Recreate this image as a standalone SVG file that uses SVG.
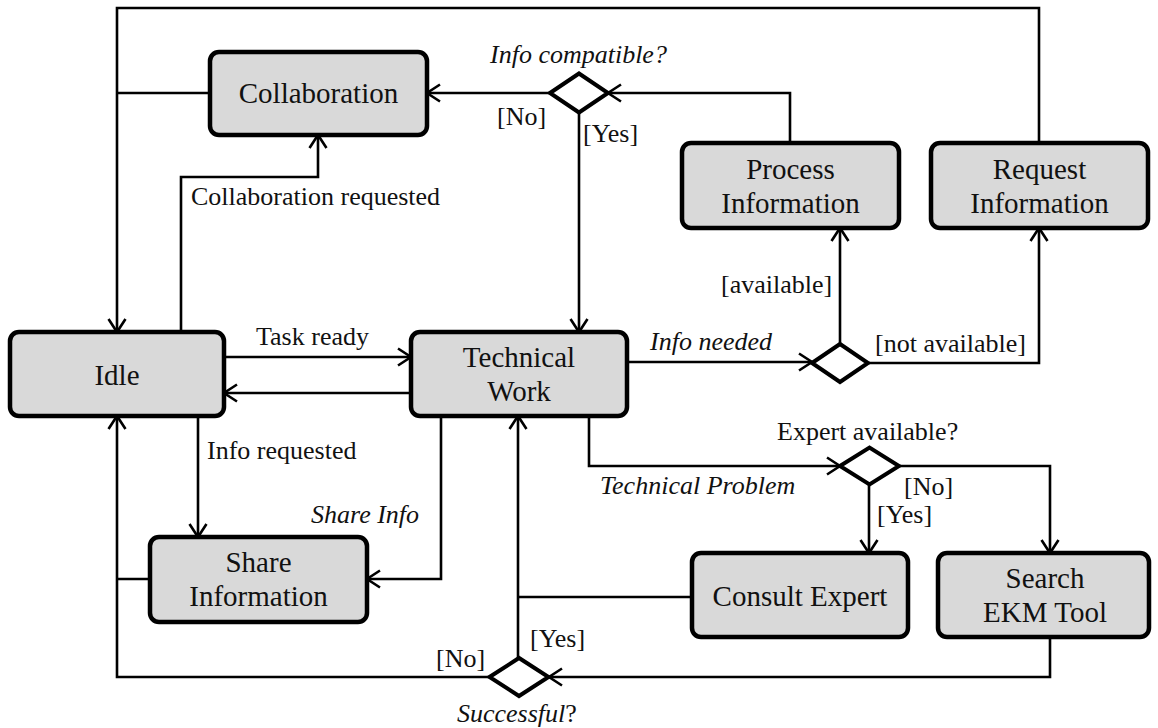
<svg xmlns="http://www.w3.org/2000/svg" width="1158" height="728" viewBox="0 0 1158 728">
  <defs>
    <marker id="arrow" markerUnits="userSpaceOnUse" markerWidth="24" markerHeight="24" viewBox="-16 -12 24 24" refX="0" refY="0" orient="auto">
      <path d="M-13,-8.5 L0,0 L-13,8.5" fill="none" stroke="#000" stroke-width="2.6"/>
    </marker>
    <style>
      .node rect { fill: #d9d9d9; stroke: #000; stroke-width: 4.5; }
      .node text { font-family: "Liberation Serif", "Times New Roman", serif; font-size: 29px; fill: #111; text-anchor: middle; }
      .decision polygon { fill: #fff; stroke: #000; stroke-width: 4; stroke-linejoin: miter; }
      .edges path { fill: none; stroke: #000; stroke-width: 2.6; }
      .edges path.arr { marker-end: url(#arrow); }
      .label { font-family: "Liberation Serif", "Times New Roman", serif; font-size: 26px; fill: #111; }
      .it { font-style: italic; }
    </style>
  </defs>
  <rect width="1158" height="728" fill="#fff"/>

  <!-- connectors -->
  <g id="connectors" class="edges">
    <path class="arr" d="M1039,143 V8 H117 V332"/>
    <path d="M210,93 H117"/>
    <path class="arr" d="M181,332 V177 H318 V135"/>
    <path class="arr" d="M790,143 V93 H608"/>
    <path class="arr" d="M550,93 H427"/>
    <path class="arr" d="M579,112 V332"/>
    <path class="arr" d="M224,357 H411"/>
    <path class="arr" d="M411,393 H224"/>
    <path class="arr" d="M198,416 V537"/>
    <path class="arr" d="M441,416 V579 H367"/>
    <path d="M150,579 H117"/>
    <path class="arr" d="M489,677 H117 V416"/>
    <path d="M692,597 H518"/>
    <path class="arr" d="M518,658 V416"/>
    <path class="arr" d="M627,362 H812"/>
    <path class="arr" d="M840,344 V228"/>
    <path class="arr" d="M869,363 H1039 V228"/>
    <path class="arr" d="M589,416 V466 H840"/>
    <path class="arr" d="M899,466 H1050 V553"/>
    <path class="arr" d="M869,484 V553"/>
    <path class="arr" d="M1050,637 V677 H549"/>
  </g>

  <!-- decision points -->
  <g id="d-compatible" class="decision">
    <polygon points="550,93 579,73.5 608,93 579,112.5"/>
  </g>
  <g id="d-info-needed" class="decision">
    <polygon points="812,363 840,344 868,363 840,382"/>
  </g>
  <g id="d-expert" class="decision">
    <polygon points="840,466 869.5,447.5 899,466 869.5,484.5"/>
  </g>
  <g id="d-successful" class="decision">
    <polygon points="489.5,677 519,658 548.5,677 519,696"/>
  </g>

  <!-- states -->
  <g id="collaboration" class="node">
    <rect x="210" y="52" width="217" height="83" rx="9"/>
    <text x="318.5" y="103">Collaboration</text>
  </g>
  <g id="process-information" class="node">
    <rect x="682" y="143" width="217" height="85" rx="9"/>
    <text x="790.5" y="179">Process</text>
    <text x="790.5" y="213">Information</text>
  </g>
  <g id="request-information" class="node">
    <rect x="931" y="143" width="217" height="85" rx="9"/>
    <text x="1039.5" y="179">Request</text>
    <text x="1039.5" y="213">Information</text>
  </g>
  <g id="idle" class="node">
    <rect x="10" y="332" width="214" height="84" rx="9"/>
    <text x="117" y="385">Idle</text>
  </g>
  <g id="technical-work" class="node">
    <rect x="411" y="332" width="216" height="84" rx="9"/>
    <text x="519" y="367">Technical</text>
    <text x="519" y="401">Work</text>
  </g>
  <g id="share-information" class="node">
    <rect x="150" y="537" width="217" height="85" rx="9"/>
    <text x="258.5" y="572">Share</text>
    <text x="258.5" y="606">Information</text>
  </g>
  <g id="consult-expert" class="node">
    <rect x="692" y="553" width="216" height="84" rx="9"/>
    <text x="800" y="606">Consult Expert</text>
  </g>
  <g id="search-ekm-tool" class="node">
    <rect x="938" y="553" width="211" height="84" rx="9"/>
    <text x="1045" y="588">Search</text>
    <text x="1045" y="622">EKM Tool</text>
  </g>

  <!-- guard and transition labels -->
  <g id="labels">
    <text class="label it" x="490" y="63">Info compatible?</text>
    <text class="label" x="497" y="125">[No]</text>
    <text class="label" x="583" y="142">[Yes]</text>
    <text class="label" x="191" y="205">Collaboration requested</text>
    <text class="label" x="721" y="293">[available]</text>
    <text class="label" x="256" y="345">Task ready</text>
    <text class="label it" x="650" y="350">Info needed</text>
    <text class="label" x="875" y="352">[not available]</text>
    <text class="label" x="207" y="459">Info requested</text>
    <text class="label" x="777" y="440">Expert available?</text>
    <text class="label it" x="600" y="494">Technical Problem</text>
    <text class="label" x="904" y="495">[No]</text>
    <text class="label" x="877" y="523">[Yes]</text>
    <text class="label it" x="311" y="523">Share Info</text>
    <text class="label" x="530" y="647">[Yes]</text>
    <text class="label" x="436" y="667">[No]</text>
    <text class="label" x="457" y="722"><tspan class="it">Successful</tspan>?</text>
  </g>
</svg>
